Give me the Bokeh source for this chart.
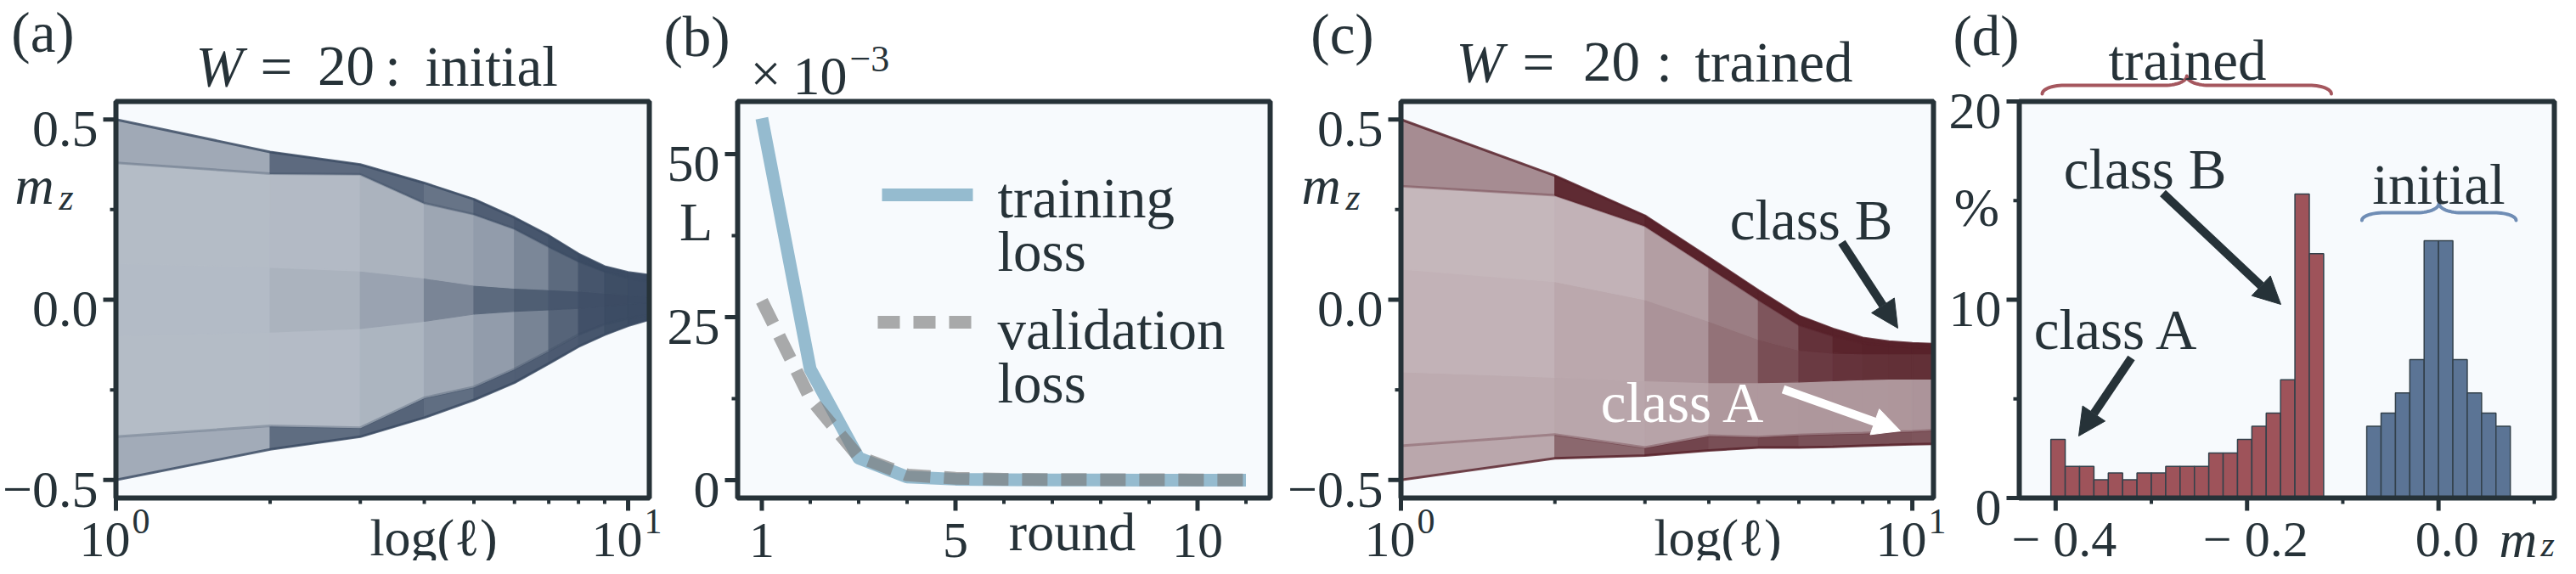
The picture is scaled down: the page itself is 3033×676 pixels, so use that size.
import math
from bokeh.plotting import figure
from bokeh.layouts import row
from bokeh.models import Range1d, Label, Arrow, NormalHead
from bokeh.embed import file_html
from bokeh.resources import INLINE

# ------------------------------------------------------------------ data
ell = [1, 2, 3, 4, 5, 6, 7, 8, 9, 10, 11]
ell_ticks = [1, 10]
ell_tick_exponents = ["0", "1"]
ell_minor = [2, 3, 4, 5, 6, 7, 8, 9]
mz_ticks = [-0.5, 0.0, 0.5]
mz_tick_labels = ["\u22120.5", "0.0", "0.5"]
mz_minor = [-0.25, 0.25]

# (a) W = 20, initial model: m_z trajectories summarised by read-off curves (bottom -> top)
init_bot_env   = [-0.50, -0.415, -0.380, -0.327, -0.278, -0.230, -0.177, -0.130, -0.097, -0.072, -0.055]
init_bot_inner = [-0.38, -0.350, -0.355, -0.272, -0.242, -0.192, -0.142, -0.097, -0.068, -0.052, -0.042]
init_core_bot  = [-0.10, -0.090, -0.080, -0.060, -0.040, -0.032, -0.028, -0.024, -0.018, -0.012, -0.008]
init_core_top  = [0.10, 0.090, 0.080, 0.060, 0.040, 0.032, 0.028, 0.024, 0.018, 0.012, 0.008]
init_top_inner = [0.38, 0.350, 0.348, 0.268, 0.237, 0.197, 0.147, 0.106, 0.078, 0.060, 0.050]
init_top_env   = [0.50, 0.410, 0.375, 0.324, 0.279, 0.228, 0.178, 0.127, 0.092, 0.076, 0.068]

# (c) W = 20, trained model
trained_bot_env   = [-0.50, -0.440, -0.432, -0.418, -0.410, -0.410, -0.408, -0.405, -0.403, -0.401, -0.400]
trained_bot_inner = [-0.405, -0.374, -0.410, -0.377, -0.381, -0.375, -0.372, -0.370, -0.367, -0.365, -0.362]
trained_mid_low   = [-0.200, -0.215, -0.225, -0.230, -0.230, -0.228, -0.225, -0.222, -0.220, -0.220, -0.220]
trained_mid_high  = [0.085, 0.050, 0.000, -0.060, -0.110, -0.140, -0.148, -0.150, -0.150, -0.150, -0.150]
trained_top_inner = [0.315, 0.290, 0.205, 0.090, 0.000, -0.070, -0.100, -0.120, -0.128, -0.132, -0.135]
trained_top_env   = [0.50, 0.344, 0.233, 0.117, 0.026, -0.045, -0.081, -0.106, -0.116, -0.121, -0.123]

# (b) losses (x 10^-3)
rounds = [1, 2, 3, 4, 5, 6, 7, 8, 9, 10, 11]
training_loss = [55.5, 17.0, 3.4, 0.5, 0.15, 0.08, 0.05, 0.03, 0.02, 0.02, 0.02]
validation_loss = [27.5, 12.5, 3.6, 0.8, 0.3, 0.15, 0.10, 0.08, 0.06, 0.05, 0.05]
round_ticks = [1, 5, 10]
round_minor = [2, 3, 4, 6, 7, 8, 9, 11]
loss_ticks = [0, 25, 50]
loss_minor = [12.5, 37.5]

# (d) histograms of final m_z (percent)
hist_bin_width = 0.015
trained_first_edge = -0.405
trained_pct = [2.95, 1.6, 1.6, 0.92, 1.26, 0.92, 1.26, 1.26, 1.6, 1.6, 1.6,
               2.27, 2.27, 2.95, 3.62, 4.28, 5.96, 15.33, 12.32]
initial_first_edge = -0.075
initial_pct = [3.62, 4.28, 5.3, 6.98, 12.98, 12.98, 6.98, 5.3, 4.28, 3.62]
hist_x_ticks = [-0.4, -0.2, 0.0]
hist_x_labels = ["\u2212 0.4", "\u2212 0.2", "0.0"]
hist_x_minor = [-0.3, -0.1, 0.1]
pct_ticks = [0, 10, 20]
pct_minor = [5, 15]

# ------------------------------------------------------------------ style / layout
INK = "#263238"
PLOT_BG = "#f7fafd"
BG_RGB = (247, 250, 253)
INIT_BASE = (59, 75, 99)
TRAIN_BASE = (88, 34, 42)
BLUE_BAR = "#5b7495"
RED_BAR = "#9e535a"
BLUE_BRACE = "#6f8db5"
RED_BRACE = "#a5575e"
TRAIN_LINE = "#95bbcf"
VAL_LINE = "#7a7a7a"
FONT = "Liberation Serif"
FS = 67
TICK_FS = 62
XTICK_FS = 60
XLAB_BASE = 653
BASE_SHIFT = 0.17   # renderer draws alphabetic labels this many em below the anchor

TOP, BOT = 127, 594
FRAMES = {"a": (144, 772), "b": (876, 1503), "c": (1657, 2284), "d": (2385, 3015)}
FIG_SPAN = {"a": (8, 791), "b": (791, 1510), "c": (1510, 2300), "d": (2300, 3025)}
XR = {"a": (1, 11), "b": (0.5, 11.5), "c": (1, 11), "d": (-0.438, 0.121)}
YR = {"a": (-0.55, 0.55), "b": (-2.73, 58.07), "c": (-0.55, 0.55), "d": (0, 20)}
LOG = {"a": True, "b": False, "c": True, "d": False}


def X(k, px):
    l, r = FRAMES[k]
    lo, hi = XR[k]
    t = (px - l) / (r - l)
    if LOG[k]:
        return 10 ** (math.log10(lo) + t * (math.log10(hi) - math.log10(lo)))
    return lo + t * (hi - lo)


def XP(k, x):
    l, r = FRAMES[k]
    lo, hi = XR[k]
    if LOG[k]:
        t = (math.log10(x) - math.log10(lo)) / (math.log10(hi) - math.log10(lo))
    else:
        t = (x - lo) / (hi - lo)
    return l + t * (r - l)


def Y(k, py):
    lo, hi = YR[k]
    return lo + (BOT - py) / (BOT - TOP) * (hi - lo)


def YP(k, y):
    lo, hi = YR[k]
    return BOT - (y - lo) / (hi - lo) * (BOT - TOP)


def make_fig(k):
    fl, fr = FIG_SPAN[k]
    p = figure(width=fr - fl, height=660,
               x_range=Range1d(X(k, fl), X(k, fr)), y_range=Range1d(Y(k, 668), Y(k, 8)),
               x_axis_type="log" if LOG[k] else "linear",
               x_axis_location=None, y_axis_location=None, min_border=0,
               title_location=None,
               output_backend="svg", toolbar_location=None)
    p.title = None
    p.outline_line_color = None
    p.background_fill_color = "white"
    p.border_fill_color = "white"
    p.grid.visible = False
    lo, hi = XR[k]
    ylo, yhi = YR[k]
    p.quad(left=[lo], right=[hi], bottom=[ylo], top=[yhi], fill_color=PLOT_BG, line_color=None)
    return p


def text(p, k, s, px, py, size=FS, align="left", italic=False, color=INK):
    p.add_layout(Label(x=X(k, px), y=Y(k, py - BASE_SHIFT * size), text=s, text_font=FONT,
                       text_font_size=f"{size}px", text_align=align,
                       text_baseline="alphabetic", text_color=color,
                       text_font_style="italic" if italic else "normal"))


def tick_text(p, k, v, s, py, dx=0, size=XTICK_FS, align="center"):
    p.add_layout(Label(x=v, y=Y(k, py - BASE_SHIFT * size), x_offset=dx, text=s, text_font=FONT,
                       text_font_size=f"{size}px", text_align=align,
                       text_baseline="alphabetic", text_color=INK))


def frame_and_ticks(p, k, xticks, xminor, yticks, yminor, ylabels):
    lo, hi = XR[k]
    ylo, yhi = YR[k]
    left = FRAMES[k][0]
    p.quad(left=[lo], right=[hi], bottom=[ylo], top=[yhi], fill_color=None,
           line_color=INK, line_width=6)
    for ticks, ln, w in [(xticks, 15, 5), (xminor, 7, 4)]:
        p.segment(x0=ticks, y0=[ylo] * len(ticks), x1=ticks, y1=[Y(k, BOT + ln)] * len(ticks),
                  line_color=INK, line_width=w)
    for ticks, ln, w in [(yticks, 15, 5), (yminor, 7, 4)]:
        p.segment(x0=[lo] * len(ticks), y0=ticks, x1=[X(k, left - ln)] * len(ticks), y1=ticks,
                  line_color=INK, line_width=w)
    for v, s in zip(yticks, ylabels):
        text(p, k, s, left - 21, YP(k, v) + 22, size=TICK_FS, align="right")


def blend(base, op):
    c = [round(BG_RGB[i] * (1 - op) + base[i] * op) for i in range(3)]
    return "#%02x%02x%02x" % tuple(c)


def draw_fan(p, curves, base, alpha0, gamma=1.4):
    xs, ys, cols = [], [], []
    for lo, hi in zip(curves[:-1], curves[1:]):
        w0 = hi[0] - lo[0]
        for k in range(len(ell) - 1):
            w = 0.5 * ((hi[k] - lo[k]) + (hi[k + 1] - lo[k + 1]))
            dens = w0 / max(w, 1e-4)
            op = 1 - (1 - alpha0) ** (dens ** gamma)
            xs.append([ell[k], ell[k + 1], ell[k + 1], ell[k]])
            ys.append([lo[k], lo[k + 1], hi[k + 1], hi[k]])
            cols.append(blend(base, op))
    p.patches(xs, ys, fill_color=cols, line_color=cols, line_width=1.2)
    hexbase = "#%02x%02x%02x" % base
    p.multi_line([ell, ell], [curves[1], curves[-2]], line_color=hexbase,
                 line_width=3, line_alpha=0.3)
    p.multi_line([ell, ell], [curves[0], curves[-1]], line_color=hexbase,
                 line_width=3, line_alpha=0.8)


def mz_label(p, k, px, py):
    text(p, k, "m", px, py, size=64, italic=True)
    text(p, k, "z", px + 52, py + 10, size=44, italic=True)


def title(p, k, pieces, base_y):
    for s, px, align, it in pieces:
        text(p, k, s, px, base_y, align=align, italic=it)


def arrow(p, k, p0, p1, color):
    p.add_layout(Arrow(end=NormalHead(size=32, fill_color=color, line_color=color),
                       x_start=X(k, p0[0]), y_start=Y(k, p0[1]),
                       x_end=X(k, p1[0]), y_end=Y(k, p1[1]),
                       line_color=color, line_width=10))


def brace(p, k, x0, x1, y_tip, y_line, y_peak, color, r=26, n=14):
    a, b = XP(k, x0), XP(k, x1)
    xm = 0.5 * (a + b)
    pts = []
    for i in range(n + 1):
        th = math.pi / 2 * i / n
        pts.append((a + r * (1 - math.cos(th)), y_tip - (y_tip - y_line) * math.sin(th)))
    for i in range(n + 1):
        ph = math.pi / 2 * i / n
        pts.append((xm - r + r * math.sin(ph), y_line - (y_line - y_peak) * (1 - math.cos(ph))))
    right = [(2 * xm - x, y) for (x, y) in reversed(pts)]
    path = pts + right[1:]
    p.line([X(k, x) for x, _ in path], [Y(k, y) for _, y in path],
           line_color=color, line_width=4, line_join="round", line_cap="round")


def log_tick_labels(p, k):
    for v, e in zip(ell_ticks, ell_tick_exponents):
        tick_text(p, k, v, "10", XLAB_BASE, dx=17, align="right")
        tick_text(p, k, v, e, XLAB_BASE - 24, dx=19, size=42, align="left")


# ------------------------------------------------------------------ (a)
pa = make_fig("a")
draw_fan(pa, [init_bot_env, init_bot_inner, init_core_bot, init_core_top,
              init_top_inner, init_top_env], INIT_BASE, 0.34)
frame_and_ticks(pa, "a", ell_ticks, ell_minor, mz_ticks, mz_minor, mz_tick_labels)
log_tick_labels(pa, "a")
text(pa, "a", "(a)", 58, 57, align="center")
title(pa, "a", [("W", 238, "left", True), ("=", 333, "center", False),
                ("20", 415, "center", False), (":", 470, "center", False),
                ("initial", 508, "left", False)], 97)
mz_label(pa, "a", 25, 237)
text(pa, "a", "log(\u2113)", 518, XLAB_BASE - 2, size=62, align="center")

# ------------------------------------------------------------------ (b)
pb = make_fig("b")
pb.line(rounds, training_loss, line_color=TRAIN_LINE, line_width=15, line_join="round")
pb.line(rounds, validation_loss, line_color=VAL_LINE, line_alpha=0.63, line_width=15,
        line_dash="30 16", line_join="round")
pb.line([X("b", 1046), X("b", 1153)], [Y("b", 237), Y("b", 237)],
        line_color=TRAIN_LINE, line_width=15)
pb.line([X("b", 1041), X("b", 1153)], [Y("b", 387), Y("b", 387)],
        line_color=VAL_LINE, line_alpha=0.63, line_width=15, line_dash="26 16")
frame_and_ticks(pb, "b", round_ticks, round_minor, loss_ticks, loss_minor,
                [str(v) for v in loss_ticks])
for s, by in [("training", 252), ("loss", 315), ("validation", 407), ("loss", 470)]:
    text(pb, "b", s, 1182, by)
for v in round_ticks:
    tick_text(pb, "b", v, str(v), XLAB_BASE + 1)
text(pb, "b", "(b)", 828, 62, align="center")
text(pb, "b", "\u00d7", 909, 105, size=64, align="center")
text(pb, "b", "10", 941, 108, size=64)
text(pb, "b", "\u22123", 1008, 84, size=44)
text(pb, "b", "L", 827, 280, size=64, align="center")
text(pb, "b", "round", 1270, XLAB_BASE - 8, size=64, align="center")

# ------------------------------------------------------------------ (c)
pc = make_fig("c")
draw_fan(pc, [trained_bot_env, trained_bot_inner, trained_mid_low, trained_mid_high,
              trained_top_inner, trained_top_env], TRAIN_BASE, 0.32)
frame_and_ticks(pc, "c", ell_ticks, ell_minor, mz_ticks, mz_minor, mz_tick_labels)
log_tick_labels(pc, "c")
text(pc, "c", "(c)", 1588, 59, align="center")
title(pc, "c", [("W", 1722, "left", True), ("=", 1819, "center", False),
                ("20", 1905, "center", False), (":", 1967, "center", False),
                ("trained", 2003, "left", False)], 92)
mz_label(pc, "c", 1540, 237)
text(pc, "c", "log(\u2113)", 2030, XLAB_BASE - 2, size=62, align="center")
text(pc, "c", "class B", 2140, 278, align="center")
arrow(pc, "c", (2176, 293), (2242, 394), INK)
text(pc, "c", "class A", 1990, 493, align="center", color="white")
arrow(pc, "c", (2107, 466), (2245, 515), "white")

# ------------------------------------------------------------------ (d)
pd_ = make_fig("d")
t_left = [trained_first_edge + i * hist_bin_width for i in range(len(trained_pct))]
i_left = [initial_first_edge + i * hist_bin_width for i in range(len(initial_pct))]
pd_.quad(left=t_left, right=[v + hist_bin_width for v in t_left], top=trained_pct, bottom=0,
         fill_color=RED_BAR, line_color="#33414b", line_width=1.5)
pd_.quad(left=i_left, right=[v + hist_bin_width for v in i_left], top=initial_pct, bottom=0,
         fill_color=BLUE_BAR, line_color="#33414b", line_width=1.5)
brace(pd_, "d", t_left[0] - 0.009, t_left[-1] + hist_bin_width + 0.008, 118, 108, 97, RED_BRACE)
brace(pd_, "d", i_left[0] - 0.005, i_left[-1] + hist_bin_width + 0.006, 267, 258, 247, BLUE_BRACE)
frame_and_ticks(pd_, "d", hist_x_ticks, hist_x_minor, pct_ticks, pct_minor,
                [str(v) for v in pct_ticks])
for v, s in zip(hist_x_ticks, hist_x_labels):
    tick_text(pd_, "d", v, s, XLAB_BASE, dx=10)
text(pd_, "d", "(d)", 2346, 61, align="center")
text(pd_, "d", "%", 2335, 263, size=64, align="center")
text(pd_, "d", "m", 2950, XLAB_BASE, size=62, italic=True)
text(pd_, "d", "z", 2999, XLAB_BASE + 3, size=42, italic=True)
text(pd_, "d", "trained", 2583, 90, align="center")
text(pd_, "d", "initial", 2879, 236, align="center")
text(pd_, "d", "class B", 2533, 218, align="center")
arrow(pd_, "d", (2554, 235), (2693, 366), INK)
text(pd_, "d", "class A", 2500, 407, align="center")
arrow(pd_, "d", (2517, 429), (2455, 521), INK)

layout = row(pa, pb, pc, pd_)
with open("out.html", "w", encoding="utf-8") as f:
    f.write(file_html(layout, INLINE))
